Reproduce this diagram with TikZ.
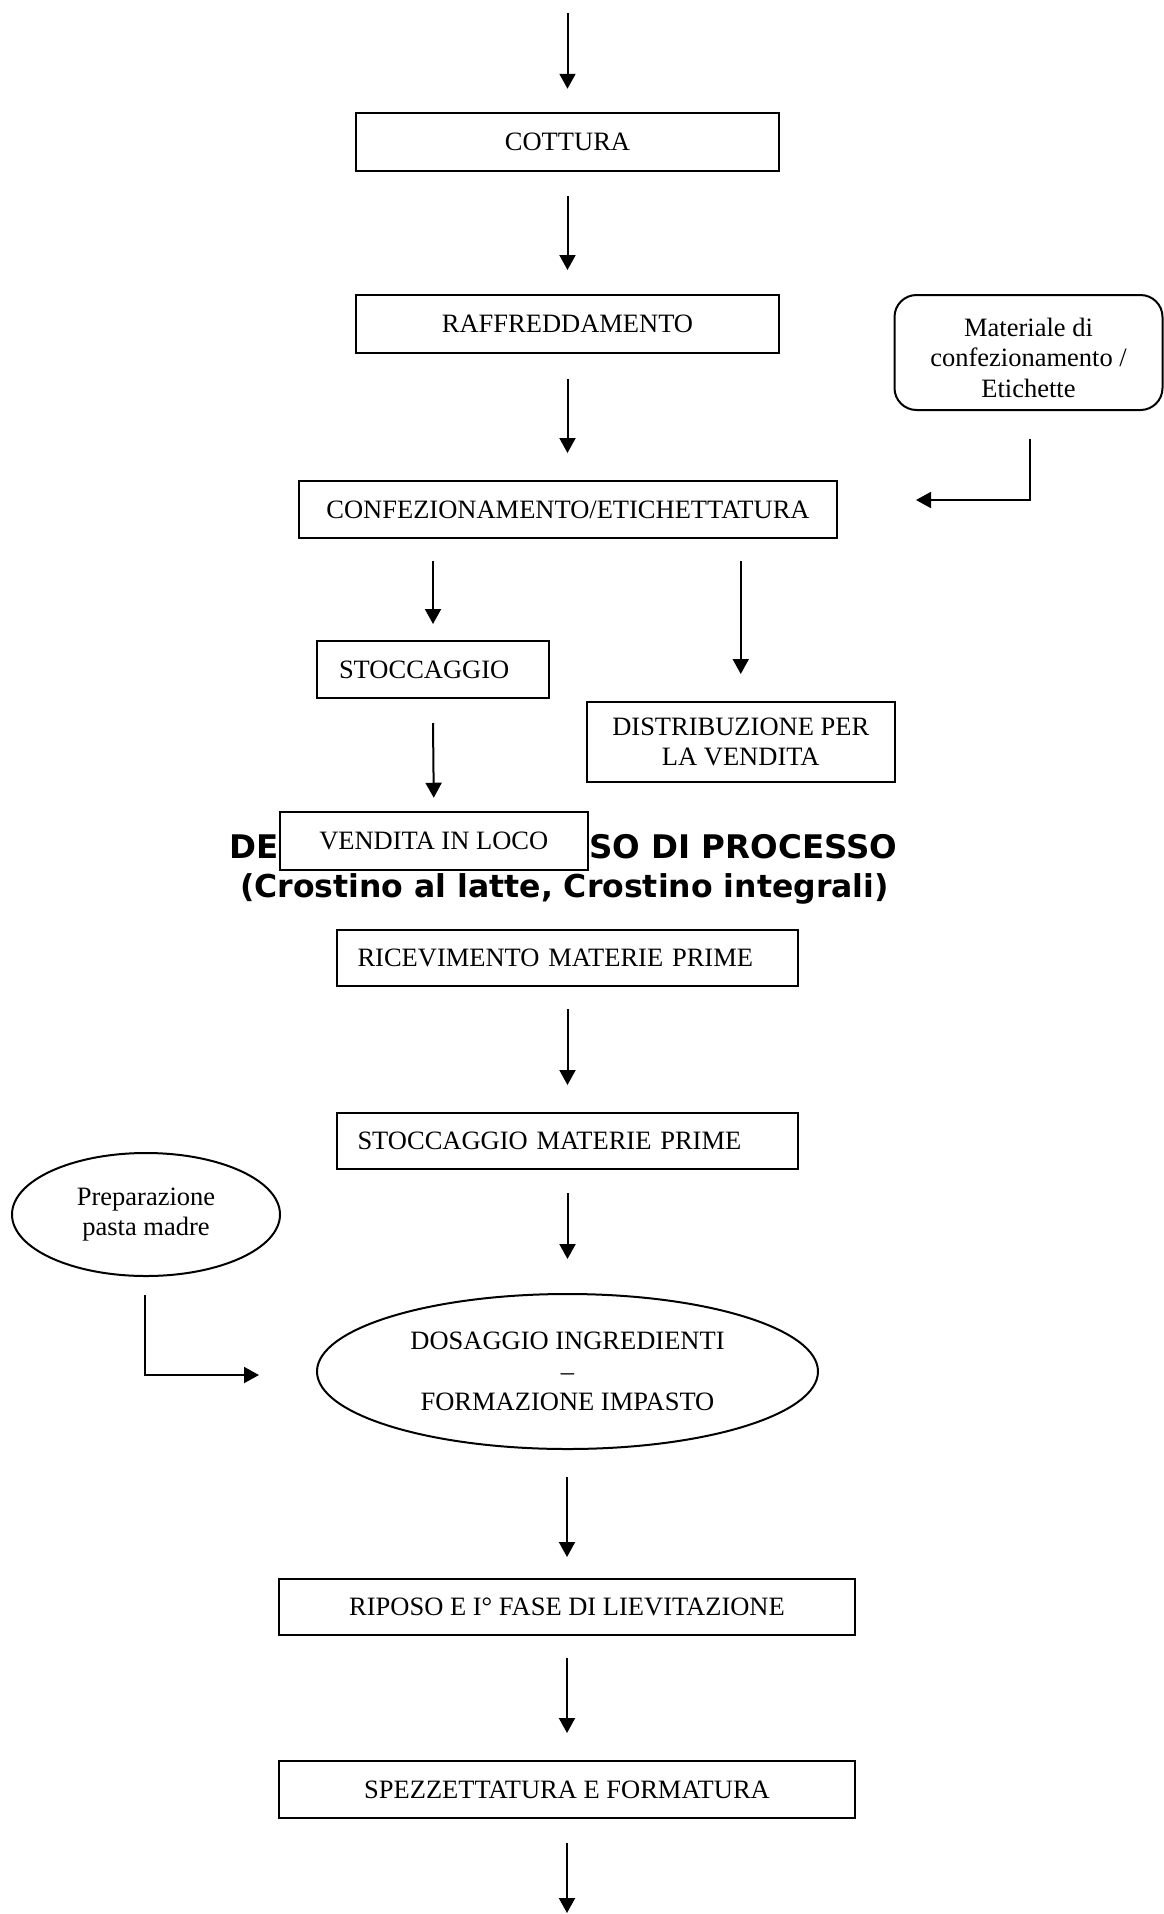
\documentclass[tikz,border=0pt]{standalone}
\usepackage{fontspec}
\setmainfont{Liberation Serif}
\newfontfamily\headfont{DejaVu Sans}
\usetikzlibrary{arrows.meta,calc,shapes.geometric}
\newcommand\stepfont{\fontsize{26.5}{30.5}\selectfont}
\newcommand\headsize{\headfont\bfseries\fontsize{31.5}{36}\selectfont}
\newcommand\headsizeup{\headfont\bfseries\fontsize{32.5}{36}\selectfont}
\begin{document}
\begin{tikzpicture}[x=1pt,y=-1pt,
  box/.style={draw, line width=2pt, inner sep=0pt, font=\stepfont, align=center},
  leftbox/.style={box, align=left},
  oval/.style={box, ellipse},
  flow/.style={line width=2pt, -{Triangle[length=15pt,width=16pt]}},
  head/.style={inner sep=0pt, font=\headsize},
  headup/.style={inner sep=0pt, font=\headsizeup},
]
\useasboundingbox (0,0) rectangle (1163,1914);

% title, partly covered by the sales box drawn further down
\node[headup, anchor=base east] (t1a) at (279,858.5) {DE};
\node[headup, anchor=base west] (t1b) at (589,858.5) {SO DI PROCESSO};
\node[head, anchor=base] (t2) at (564.5,897) {(Crostino al latte, Crostino integrali)};

% upper chain
\node[box, minimum width=423pt, minimum height=57.5pt] (cot) at (567.5,142) {COTTURA};
\node[box, minimum width=423pt, minimum height=58pt] (raff) at (567.5,324) {RAFFREDDAMENTO};
\node[box, minimum width=538pt, minimum height=57pt] (conf) at (568,509.5) {CONFEZIONAMENTO/ETICHETTATURA};
\node[box, rounded corners=22pt, minimum width=268pt, minimum height=115pt] (mat) at (1028.5,352.5) {};
\node[font=\stepfont, align=center, inner sep=0pt] (mattext) at ($(mat.center)+(0,5)$)
  {Materiale di\\confezionamento /\\Etichette};
\node[leftbox, inner xsep=22pt, text width=188pt, minimum height=57pt] (stocc) at (433,669.5) {STOCCAGGIO};
\node[box, minimum width=307.5pt, minimum height=80pt] (dist) at (740.75,742) {DISTRIBUZIONE PER\\LA VENDITA};
\node[box, fill=white, minimum width=308.5pt, minimum height=58.5pt] (vend) at (433.75,841) {VENDITA IN LOCO};

% lower chain
\node[leftbox, inner xsep=20.5pt, text width=420pt, minimum height=56pt] (ricev) at (567.5,958) {RICEVIMENTO MATERIE PRIME};
\node[leftbox, inner xsep=20.5pt, text width=420pt, minimum height=56pt] (stoccmp) at (567.5,1141) {STOCCAGGIO MATERIE PRIME};
\node[oval, minimum width=268pt, minimum height=123pt] (prep) at (146,1214.5) {Preparazione\\pasta madre};
\node[oval, minimum width=501pt, minimum height=155pt, text depth=0pt] (dos) at (567.5,1371.5)
  {DOSAGGIO INGREDIENTI\\[0pt]--\\[0pt]FORMAZIONE IMPASTO};
\node[box, minimum width=576pt, minimum height=56pt] (rip) at (567,1607) {RIPOSO E I° FASE DI LIEVITAZIONE};
\node[box, minimum width=576pt, minimum height=57pt] (spez) at (567,1789.5) {SPEZZETTATURA E FORMATURA};

% connectors
\coordinate (in) at (567.5,13);
\coordinate (out) at (567,1913);
\draw[flow] (in) -- ($(cot.north)+(0,-23.5)$);
\draw[flow] ($(cot.south)+(0,24)$) -- ($(raff.north)+(0,-24)$);
\draw[flow] ($(raff.south)+(0,25)$) -- ($(conf.north -| raff.south)+(0,-27)$);
\draw[flow] ($(mat.south)+(1.5,28)$) |- ($(conf.east)+(78,-9.5)$);
\draw[flow] ($(conf.south -| stocc.north)+(0,22)$) -- ($(stocc.north)+(0,-16)$);
\draw[flow] ($(conf.south -| dist.north)+(0,22)$) -- ($(dist.north)+(0,-27)$);
\draw[flow] ($(stocc.south)+(0,24)$) -- ($(vend.north)+(0,-13)$);
\draw[flow] ($(ricev.south)+(0,22)$) -- ($(stoccmp.north)+(0,-27)$);
\draw[flow] ($(stoccmp.south)+(0,23)$) -- ($(dos.north)+(0,-34)$);
\draw[flow] ($(prep.south)+(-1,18)$) |- ($(dos.west)+(-57,3.5)$);
\draw[flow] ($(dos.south -| rip.north)+(0,27)$) -- ($(rip.north)+(0,-21)$);
\draw[flow] ($(rip.south)+(0,22)$) -- ($(spez.north)+(0,-27)$);
\draw[flow] ($(spez.south)+(0,24)$) -- (out);
\end{tikzpicture}
\end{document}
